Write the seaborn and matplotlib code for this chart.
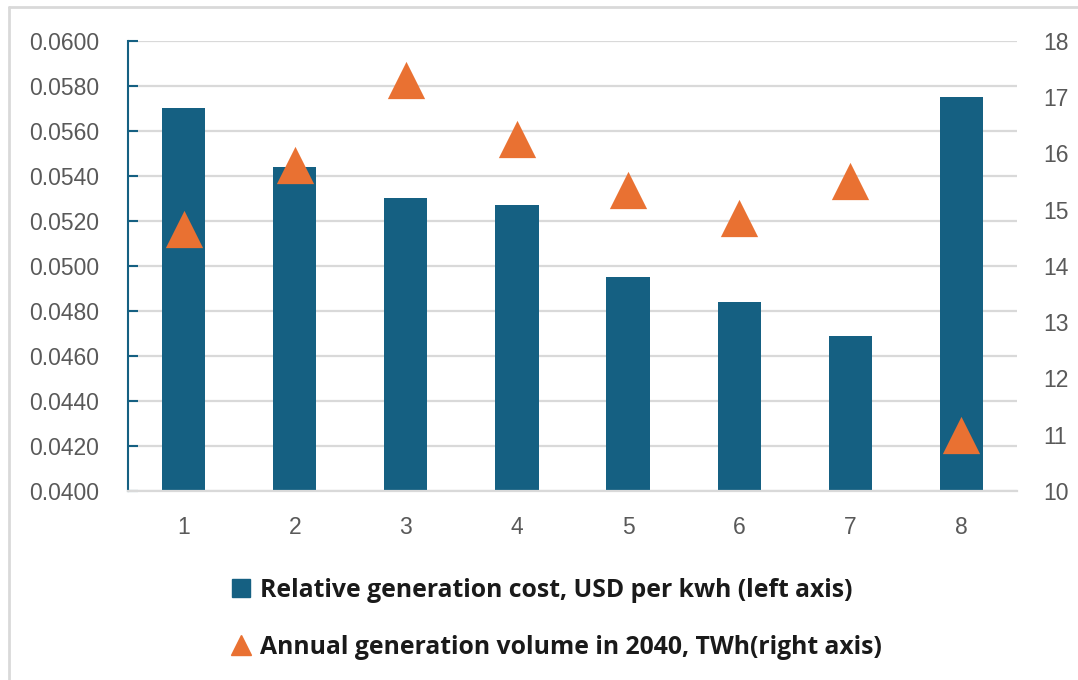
import matplotlib
matplotlib.use("Agg")
import matplotlib.pyplot as plt
from matplotlib.lines import Line2D
import seaborn as sns
import pandas as pd

# Scenario data
scenarios = ["1", "2", "3", "4", "5", "6", "7", "8"]
generation_cost = [0.0570, 0.0544, 0.0530, 0.0527, 0.0495, 0.0484, 0.0469, 0.0575]
generation_volume = [14.65, 15.8, 17.3, 16.25, 15.35, 14.85, 15.5, 11.0]

cost_ticks = [0.0400 + 0.0020 * i for i in range(11)]
volume_ticks = list(range(10, 19))

cost_label = "Relative generation cost, USD per kwh (left axis)"
volume_label = "Annual generation volume in 2040, TWh(right axis)"

BLUE = "#156082"
ORANGE = "#E97132"
GRID = "#d9d9d9"
TICK_TEXT = "#595959"

sns.set_theme(style="white")
plt.rcParams["font.family"] = ["Liberation Sans", "DejaVu Sans"]

df = pd.DataFrame({"scenario": scenarios, "cost": generation_cost, "volume": generation_volume})

fig = plt.figure(figsize=(10.78, 6.80), dpi=100)
ax = fig.add_axes([128 / 1078, 1 - 491 / 680, (1017 - 128) / 1078, (491 - 40.7) / 680])

sns.barplot(data=df, x="scenario", y="cost", ax=ax, color=BLUE, saturation=1,
            width=0.39, edgecolor="none", zorder=2)
ax.set_ylim(cost_ticks[0], cost_ticks[-1])
ax.set_yticks(cost_ticks)
ax.set_yticklabels([f"{t:.4f}" for t in cost_ticks])
ax.set_xlim(-0.5, len(scenarios) - 0.5)
ax.set_xlabel("")
ax.set_ylabel("")
ax.set_axisbelow(True)
ax.yaxis.grid(True, color=GRID, linewidth=1.6)

for side in ["top", "right"]:
    ax.spines[side].set_visible(False)
ax.spines["bottom"].set_color(GRID)
ax.spines["bottom"].set_linewidth(1.6)
ax.spines["left"].set_color(BLUE)
ax.spines["left"].set_linewidth(1.5)

ax.tick_params(axis="y", direction="in", length=7, width=1.5, color=BLUE,
               pad=21, labelsize=16.5, labelcolor=TICK_TEXT)
ax.tick_params(axis="x", length=0, pad=18, labelsize=16.5, labelcolor=TICK_TEXT)

ax2 = ax.twinx()
sns.scatterplot(data=df, x="scenario", y="volume", ax=ax2, marker="^", s=720,
                color=ORANGE, linewidth=0, zorder=3)
ax2.set_ylim(volume_ticks[0], volume_ticks[-1])
ax2.set_yticks(volume_ticks)
ax2.set_ylabel("")
for side in ["top", "right", "left", "bottom"]:
    ax2.spines[side].set_visible(False)
ax2.tick_params(axis="y", length=0, pad=19, labelsize=16.5, labelcolor=TICK_TEXT)

# Chart-area frame (top and left edges)
fig.add_artist(Line2D([8.5 / 1078, 1.0], [1 - 7 / 680, 1 - 7 / 680],
                      transform=fig.transFigure, color=GRID, linewidth=2))
fig.add_artist(Line2D([8.5 / 1078, 8.5 / 1078], [0.0, 1 - 7 / 680],
                      transform=fig.transFigure, color=GRID, linewidth=2))

handles = [
    Line2D([], [], linestyle="none", marker="s", markersize=12.5, color=BLUE),
    Line2D([], [], linestyle="none", marker="^", markersize=15, color=ORANGE),
]
fig.legend(handles, [cost_label, volume_label], loc="upper left",
           bbox_to_anchor=(229 / 1078, 1 - 578 / 680), frameon=False,
           handlelength=1.0, handletextpad=0.25, labelspacing=1.3,
           prop={"family": ["Open Sans", "DejaVu Sans"], "weight": "bold", "size": 17.8},
           labelcolor="#1a1a1a", borderaxespad=0, borderpad=0)

fig.savefig("out.png", dpi=100)
